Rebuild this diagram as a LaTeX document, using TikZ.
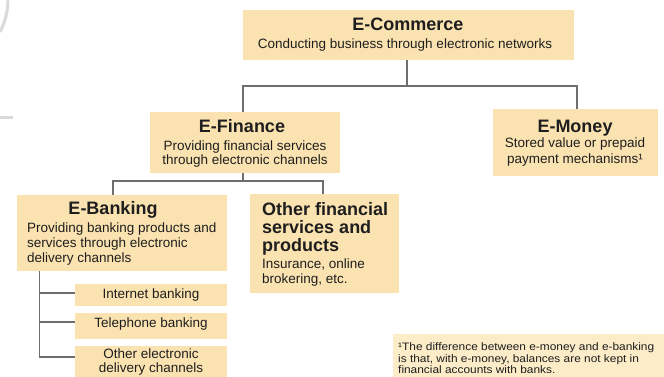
\documentclass[tikz,border=0pt]{standalone}
\usepackage{fontspec}
\setmainfont{Liberation Sans}
\newfontfamily\notefont{Liberation Sans}[FakeStretch=1.1]
\definecolor{boxfill}{HTML}{FBE3B1}
\definecolor{notefill}{HTML}{FCECC8}
\definecolor{linegray}{HTML}{6E6E6E}
\definecolor{textc}{HTML}{1E1E1E}
\definecolor{wmark}{HTML}{DADADA}
\tikzset{
  boxnode/.style={fill=boxfill, draw=none, inner sep=0pt, outer sep=0pt, anchor=north west},
  conn/.style={draw=linegray, line width=1.3pt},
  ttl/.style={font=\fontsize{18}{18}\selectfont\bfseries, text=textc, inner sep=0pt, anchor=base},
  ttlw/.style={ttl, anchor=base west},
  bdy/.style={font=\fontsize{13.5}{15}\selectfont, text=textc, inner sep=0pt, anchor=base},
  bdyw/.style={bdy, anchor=base west},
  notetxt/.style={font=\notefont\fontsize{10.8}{12}\selectfont, text=textc, inner sep=0pt, anchor=base west},
}
\newcommand{\mkbox}[6][boxfill]{%
  \node[boxnode, fill=#1, minimum width=#4pt-#2pt, minimum height=#5pt-#3pt] (#6) at (#2,#3) {};}
\begin{document}
\begin{tikzpicture}[x=1pt,y=-1pt]
\useasboundingbox (0,0) rectangle (664,376);
\clip (0,0) rectangle (664,376);
% faint watermark arc
\draw[wmark, line width=3pt] (0,32) arc[start angle=27.3, end angle=-27.3, radius=72];
\draw[wmark, line width=3pt] (0,117) -- (13,117);
% boxes
\mkbox{243}{10}{574}{60}{ecom}
\mkbox{150}{112}{340}{173}{efin}
\mkbox{493}{109}{658}{176}{emon}
\mkbox{17}{195}{227}{271}{ebank}
\mkbox{250}{194}{399}{293}{other}
\mkbox{75}{284}{227}{306}{sub1}
\mkbox{75}{313}{227}{339}{sub2}
\mkbox{75}{346}{227}{384}{sub3}
\mkbox[notefill]{393}{334}{670}{384}{note}
% connectors
\coordinate (j1) at (407,86);
\coordinate (j1l) at (243,86);
\coordinate (j1r) at (577,86);
\draw[conn] (ecom.south -| j1) -- (j1);
\draw[conn] (j1l |- efin.north) -- (j1l) -- (j1r) -- (j1r |- emon.north);
\coordinate (j2) at (243,181);
\coordinate (j2l) at (113,181);
\coordinate (j2r) at (323,181);
\draw[conn] (efin.south -| j2) -- (j2);
\draw[conn] (j2l |- ebank.north) -- (j2l) -- (j2r) -- (j2r |- other.north);
\coordinate (tr) at (39.5,0);
\coordinate (t1) at (75,293);
\coordinate (t2) at (75,322);
\coordinate (t3) at (75,357);
\draw[conn] (ebank.south -| tr) -- (tr |- t3) -- (t3);
\draw[conn] (tr |- t1) -- (t1);
\draw[conn] (tr |- t2) -- (t2);
% texts
\node[ttl] (ecomT) at (408,30) {E-Commerce};
\node[bdy] (ecomB) at (405,48) {Conducting business through electronic networks};
\node[ttl] (efinT) at (242,132) {E-Finance};
\node[bdy] (efinB1) at (245,150) {Providing financial services};
\node[bdy] (efinB2) at (245,164.5) {through electronic channels};
\node[ttl] (emonT) at (575,132) {E-Money};
\node[bdy] (emonB1) at (575,147) {Stored value or prepaid};
\node[bdy] (emonB2) at (575,163) {payment mechanisms¹};
\node[ttl] (ebankT) at (113,214) {E-Banking};
\node[bdyw] (ebankB1) at (27,232) {Providing banking products and};
\node[bdyw] (ebankB2) at (27,247) {services through electronic};
\node[bdyw] (ebankB3) at (27,262) {delivery channels};
\node[ttlw] (otherT1) at (262,215) {Other financial};
\node[ttlw] (otherT2) at (262,233) {services and};
\node[ttlw] (otherT3) at (262,251) {products};
\node[bdyw] (otherB1) at (262,268.5) {Insurance, online};
\node[bdyw] (otherB2) at (262,283) {brokering, etc.};
\node[bdy] (sub1T) at (151,298) {Internet banking};
\node[bdy] (sub2T) at (151,327) {Telephone banking};
\node[bdy] (sub3T1) at (151,358.5) {Other electronic};
\node[bdy] (sub3T2) at (151,372) {delivery channels};
\node[notetxt] (noteT1) at (398,350) {¹The difference between e-money and e-banking};
\node[notetxt] (noteT2) at (398,362) {is that, with e-money, balances are not kept in};
\node[notetxt] (noteT3) at (398,373.5) {financial accounts with banks.};
\end{tikzpicture}
\end{document}
